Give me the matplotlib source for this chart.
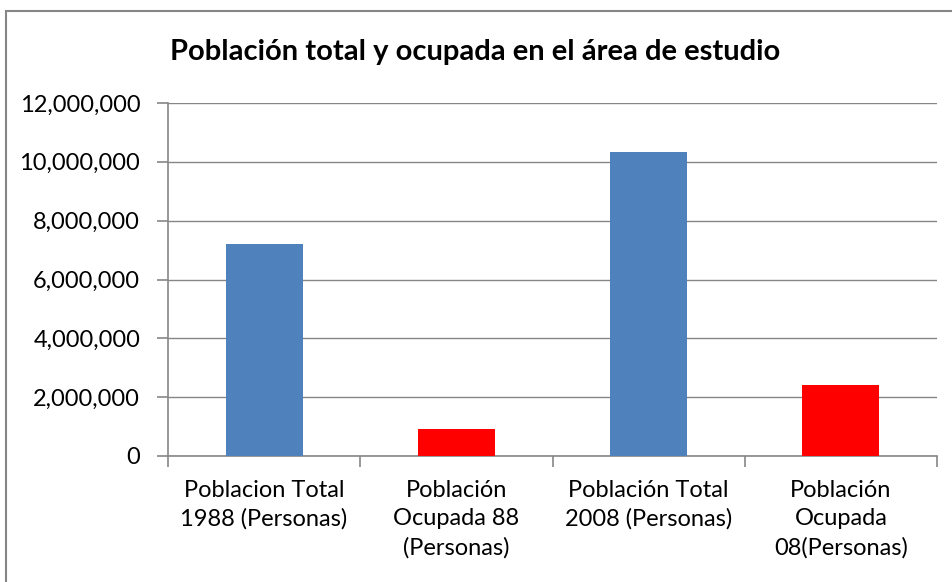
import matplotlib.pyplot as plt
import matplotlib.ticker as mticker
from matplotlib.patches import Rectangle

categories = ["Poblacion Total\n1988 (Personas)", "Población\nOcupada 88\n(Personas)",
              "Población Total\n2008 (Personas)", "Población\nOcupada\n08(Personas)"]
values = [7210000, 920000, 10320000, 2410000]
colors = ["#4F81BD", "#FF0000", "#4F81BD", "#FF0000"]

plt.rcParams['font.family'] = ['Lato', 'DejaVu Sans']

fig = plt.figure(figsize=(9.53, 5.82), dpi=100)
ax = fig.add_axes([168/953, 1 - 456/582, (937 - 168)/953, (456 - 103)/582])

# outer chart border (right and bottom edges run off the image)
fig.patches.append(Rectangle((6/953, -0.05), 1.0, 1.05 - 11/582,
                             transform=fig.transFigure, fill=False,
                             edgecolor="#868686", linewidth=1.5))

x = range(len(categories))
ax.bar(x, values, width=0.4, color=colors, zorder=3)

ax.set_xlim(-0.5, len(categories) - 0.5)
ax.set_ylim(0, 12000000)
ax.yaxis.set_major_locator(mticker.MultipleLocator(2000000))
ax.yaxis.set_major_formatter(mticker.FuncFormatter(lambda v, p: f"{int(v):,}"))
ax.grid(axis='y', color="#868686", linewidth=1, zorder=0)

for s in ["top", "right"]:
    ax.spines[s].set_visible(False)
for s in ["left", "bottom"]:
    ax.spines[s].set_color("#868686")
    ax.spines[s].set_linewidth(1.2)

ax.set_xticks(list(x))
ax.set_xticklabels(categories, fontsize=17, linespacing=1.45)
ax.set_xticks([i - 0.5 for i in range(len(categories) + 1)], minor=True)
ax.tick_params(axis='x', which='major', length=0, pad=17)
ax.tick_params(axis='x', which='minor', length=8, color="#868686", width=1.2)
ax.tick_params(axis='y', length=8, color="#868686", width=1.2, pad=12, labelsize=17)

fig.text(475/953, 1 - 52/582, "Población total y ocupada en el área de estudio",
         ha='center', va='center', fontsize=21, fontweight='bold')

fig.savefig("out.png", dpi=100)
